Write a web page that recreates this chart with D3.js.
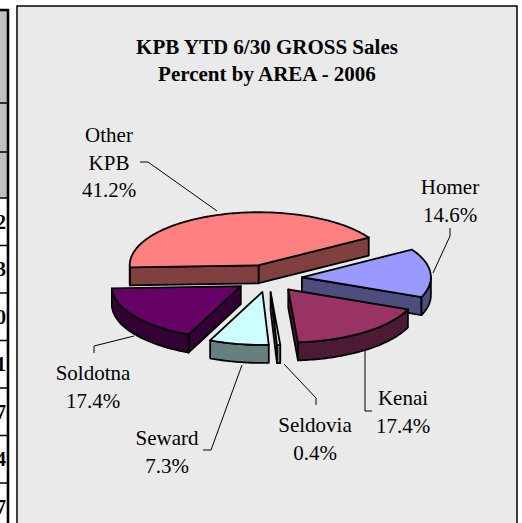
<!DOCTYPE html>
<html>
<head>
<meta charset="utf-8">
<script src="https://cdn.jsdelivr.net/npm/d3@7"></script>
<style>
  body { margin: 0; background: #fff; }
  svg { display: block; }
</style>
</head>
<body>
<script>
// data
var areas = ["Homer", "Kenai", "Seldovia", "Seward", "Soldotna", "Other KPB"];
var percents = [14.6, 17.4, 0.4, 7.3, 17.4, 41.2];
var colors = ["#9999ff", "#993366", "#ffffcc", "#ccffff", "#660066", "#ff8080"];
var titleLines = ["KPB YTD 6/30 GROSS Sales", "Percent by AREA - 2006"];
// the cut off table on the left edge
var tableDigits = ["2", "3", "0", "1", "7", "4", "7"];

var width = 522, height = 523;
var serif = "'Times New Roman', 'Liberation Serif', 'DejaVu Serif', serif";

var svg = d3.select("body").append("svg")
    .attr("width", width)
    .attr("height", height)
    .style("font-family", serif);

// ---- table fragment on the left ----
var tbl = svg.append("g");
tbl.append("clipPath").attr("id", "tclip")
  .append("rect").attr("x", 0).attr("y", 0).attr("width", 8).attr("height", height);
var headRows = [10, 103, 152, 198];
var rowY = d3.scaleLinear().domain([0, 1]).range([198, 245.5]);
tbl.append("rect").attr("x", 0).attr("y", 10).attr("width", 8).attr("height", 188)
    .attr("fill", "#c0c0c0");
var lines = headRows.concat(d3.range(1, tableDigits.length + 1).map(function(i) { return rowY(i); }));
tbl.selectAll("line.h").data(lines).enter().append("line")
    .attr("x1", 0).attr("x2", 9).attr("y1", function(d) { return d; }).attr("y2", function(d) { return d; })
    .attr("stroke", "#000").attr("stroke-width", function(d, i) { return i == 0 ? 2.5 : 1.5; });
tbl.append("g").attr("clip-path", "url(#tclip)")
  .selectAll("text").data(tableDigits).enter().append("text")
    .attr("x", 6)
    .attr("y", function(d, i) { return rowY(i + 0.5) + 7; })
    .attr("text-anchor", "end")
    .style("font-family", serif)
    .style("font-size", "20px")
    .style("font-weight", "bold")
    .text(function(d) { return d; });
tbl.append("line").attr("x1", 8).attr("x2", 8).attr("y1", 9).attr("y2", height)
    .attr("stroke", "#000").attr("stroke-width", 2.6);

// ---- chart frame ----
svg.append("rect")
    .attr("x", 17).attr("y", 6).attr("width", 500).attr("height", 540)
    .attr("fill", "#eaeaea").attr("stroke", "#000").attr("stroke-width", 1.5);

svg.selectAll(".title").data(titleLines).enter().append("text")
    .attr("class", "title")
    .attr("x", 267)
    .attr("y", function(d, i) { return 54 + i * 27; })
    .attr("text-anchor", "middle")
    .style("font-family", serif)
    .style("font-size", "21px")
    .style("font-weight", "bold")
    .text(function(d) { return d; });

// ---- 3d pie ----
var cx = 268.5, cy = 278.4, rx = 129, ry = 53, depth = 18, explode = 33.5;
var start = 58.5 * Math.PI / 180;

var pie = d3.pie().sort(null).value(function(d) { return d; })
    .startAngle(start).endAngle(start + 2 * Math.PI);
var arcs = pie(percents);

function pt(a, o, dz) {
  return [cx + o[0] + rx * Math.sin(a), cy + o[1] - ry * Math.cos(a) + (dz || 0)];
}
function arcPts(a0, a1, o, dz) {
  var n = Math.max(2, Math.ceil((a1 - a0) / 0.02));
  return d3.range(n + 1).map(function(i) { return pt(a0 + (a1 - a0) * i / n, o, dz); });
}
var line = d3.line();

arcs.forEach(function(d, i) {
  var mid = (d.startAngle + d.endAngle) / 2;
  d.off = [explode * Math.sin(mid), -explode * Math.cos(mid) * ry / rx];
  d.color = colors[i];
  var c = d3.rgb(colors[i]);
  d.side = d3.rgb(c.r * 0.5, c.g * 0.5, c.b * 0.5).toString();
});

var order = arcs.slice().sort(function(a, b) { return a.off[1] - b.off[1]; });
var pg = svg.append("g")
    .attr("stroke", "#000")
    .attr("stroke-width", 1.8)
    .attr("stroke-linejoin", "round");

order.forEach(function(d) {
  var o = d.off, a0 = d.startAngle, a1 = d.endAngle;
  var g = pg.append("g");
  var cTop = [cx + o[0], cy + o[1]], cBot = [cx + o[0], cy + o[1] + depth];
  // radial faces
  if (Math.sin(a0) < 0) {
    g.append("path").attr("fill", d.side)
      .attr("d", line([cTop, pt(a0, o), pt(a0, o, depth), cBot]) + "Z");
  }
  if (Math.sin(a1) > 0) {
    g.append("path").attr("fill", d.side)
      .attr("d", line([cTop, pt(a1, o), pt(a1, o, depth), cBot]) + "Z");
  }
  // outer wall, front half only
  [-1, 0, 1].forEach(function(k) {
    var s = Math.max(a0, Math.PI / 2 + 2 * Math.PI * k);
    var e = Math.min(a1, 3 * Math.PI / 2 + 2 * Math.PI * k);
    if (e > s) {
      var top = arcPts(s, e, o), bot = arcPts(s, e, o, depth).reverse();
      g.append("path").attr("fill", d.side).attr("d", line(top.concat(bot)) + "Z");
    }
  });
  // top face
  g.append("path").attr("fill", d.color)
    .attr("d", line([cTop].concat(arcPts(a0, a1, o))) + "Z");
});

// ---- labels and leader lines ----
var labelPos = [
  { x: 450, y: 194, lead: [[450, 228], [450, 236], [433, 273]] },
  { x: 403, y: 405, lead: [[372, 411], [365, 411], [365, 350]] },
  { x: 315, y: 432, lead: [[316, 405], [316, 398], [284, 364]] },
  { x: 167, y: 445, lead: [[203, 450], [211, 450], [242, 365]] },
  { x: 93, y: 380, lead: [[94, 353], [94, 346], [134, 336]] },
  { x: 109, y: 142, lead: [[140, 162], [148, 162], [217, 211]] }
];
var nameLines = areas.map(function(a) { return a == "Other KPB" ? ["Other", "KPB"] : [a]; });

var lg = svg.append("g");
labelPos.forEach(function(p, i) {
  lg.append("path").attr("d", line(p.lead))
    .attr("fill", "none").attr("stroke", "#000").attr("stroke-width", 1);
  var rows = nameLines[i].concat([percents[i].toFixed(1) + "%"]);
  lg.selectAll(null).data(rows).enter().append("text")
    .attr("x", p.x)
    .attr("y", function(d, j) { return p.y + j * 27.5; })
    .attr("text-anchor", "middle")
    .style("font-family", serif)
    .style("font-size", "21px")
    .text(function(d) { return d; });
});
</script>
</body>
</html>
